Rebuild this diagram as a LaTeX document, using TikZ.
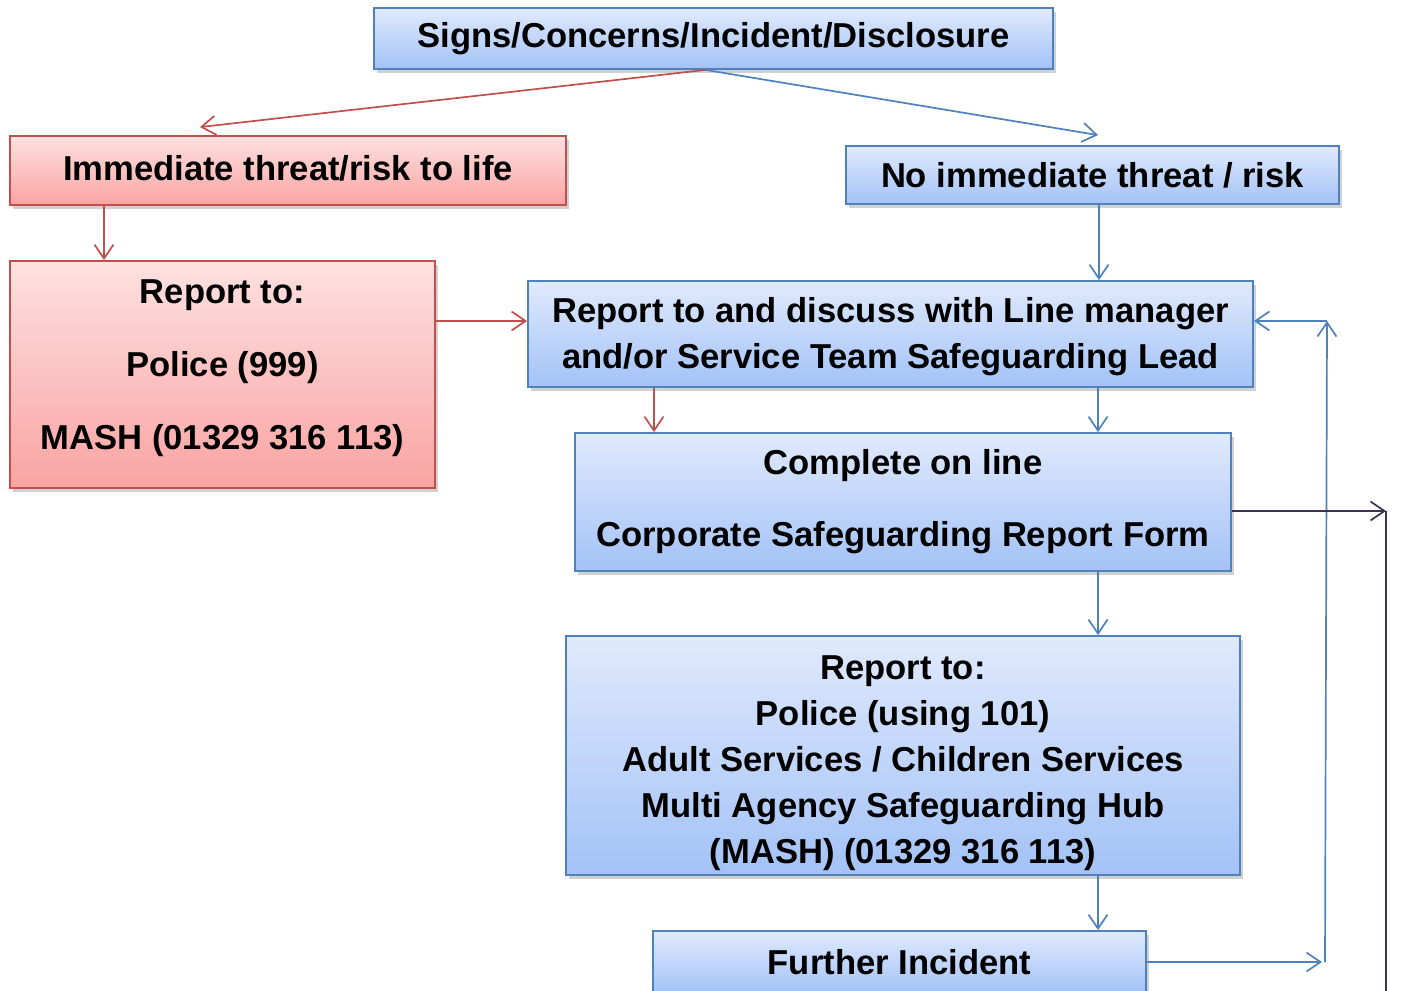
\documentclass[tikz,border=0pt]{standalone}
\usepackage{fontspec}
\setmainfont{Liberation Sans}
\usepackage{tikz}
\usetikzlibrary{arrows.meta,shadows}

\definecolor{boxblue}{HTML}{4F81BD}
\definecolor{boxred}{HTML}{C0504D}
\definecolor{bluetop}{HTML}{E0EAFC}
\definecolor{bluebot}{HTML}{A3C2F7}
\definecolor{redtop}{HTML}{FDE1E1}
\definecolor{redbot}{HTML}{F9A4A2}
\definecolor{darkline}{HTML}{3F3151}

\begin{document}
\begin{tikzpicture}[x=0.5pt,y=-0.5pt]

\tikzset{box/.style = {draw, line width=0.9pt, inner sep=0pt, align=center,
  font=\bfseries\fontsize{17.3}{23}\selectfont,
  drop shadow={shadow xshift=1.5pt, shadow yshift=-2pt, opacity=0.3, fill=black!60}}}
\tikzset{bluebox/.style = {box, draw=boxblue, top color=bluetop, bottom color=bluebot}}
\tikzset{redbox/.style = {box, draw=boxred, top color=redtop, bottom color=redbot}}
\tikzset{arc/.style = {-{Straight Barb[length=7pt,width=9.5pt]}, line width=0.85pt}}
\tikzset{bluearc/.style = {arc, draw=boxblue}}
\tikzset{redarc/.style = {arc, draw=boxred}}
\tikzset{darkarc/.style = {arc, draw=darkline}}

\useasboundingbox (0,0) rectangle (1402,990);

% boxes
\node[bluebox, minimum width=339.5pt, minimum height=30.5pt] (signs) at (713.5,38.5)
  {Signs/Concerns/Incident/Disclosure};
\node[redbox, minimum width=278pt, minimum height=34.5pt] (immed) at (288,170.5)
  {Immediate threat/risk to life\rule[-3pt]{0pt}{3pt}};
\node[bluebox, minimum width=246.5pt, minimum height=29pt] (noimmed) at (1092.5,175)
  {No immediate threat / risk};
\node[redbox, minimum width=212.5pt, minimum height=113.5pt] (police) at (222.5,374.5)
  {Report to:\\[13.5pt] Police (999)\\[13.5pt] MASH (01329 316 113)\rule[-9.6pt]{0pt}{9.6pt}};
\node[bluebox, minimum width=362.5pt, minimum height=53pt] (linemgr) at (890.5,334)
  {\rule{0pt}{15.6pt}Report to and discuss with Line manager\\ and/or Service Team Safeguarding Lead};
\node[bluebox, minimum width=328pt, minimum height=69pt] (form) at (903,502)
  {Complete on line\\[13pt] Corporate Safeguarding Report Form};
\node[bluebox, minimum width=337pt, minimum height=119.5pt] (report) at (903,755.5)
  {\rule{0pt}{19.4pt}Report to:\\ Police (using 101)\\ Adult Services / Children Services\\
   Multi Agency Safeguarding Hub\\ (MASH) (01329 316 113)};
\node[bluebox, minimum width=246.5pt, minimum height=31pt] (further) at (899.5,962)
  {Further Incident};

% corners
\coordinate (loopbot) at (1325,962);
\coordinate (looptop) at (1327,321);
\coordinate (formout) at (1386,511);
\coordinate (formend) at (1386,1000);

% arcs
\draw[redarc] ([xshift=-4pt]signs.south) to ([shift={(-88,-8)}]immed.north);
\draw[bluearc] ([xshift=-4pt]signs.south) to ([shift={(5.5,-10)}]noimmed.north);
\draw[redarc] ([xshift=-92pt]immed.south) to ([xshift=-92pt]immed.south |- police.north);
\draw[bluearc] ([xshift=3.25pt]noimmed.south) to ([xshift=3.25pt]noimmed.south |- linemgr.north);
\draw[redarc] ([yshift=26.75pt]police.east) to ([yshift=26.75pt]police.east -| linemgr.west);
\draw[redarc] ([xshift=-118.25pt]linemgr.south) to ([xshift=-118.25pt]linemgr.south |- form.north);
\draw[bluearc] ([xshift=103.75pt]linemgr.south) to ([xshift=103.75pt]linemgr.south |- form.north);
\draw[bluearc] ([xshift=97.5pt]form.south) to ([xshift=97.5pt]form.south |- report.north);
\draw[bluearc] ([xshift=97.5pt]report.south) to ([xshift=97.5pt]report.south |- further.north);

% loop back
\draw[bluearc] (further.east) to ([xshift=-1.5pt]loopbot);
\draw[bluearc] (loopbot) to (looptop);
\draw[bluearc] (looptop) to (looptop -| linemgr.east);
\draw[darkarc] ([yshift=-4.5pt]form.east) to (formout);
\draw[line width=0.85pt, darkline] (formout) to (formend);

\end{tikzpicture}
\end{document}
